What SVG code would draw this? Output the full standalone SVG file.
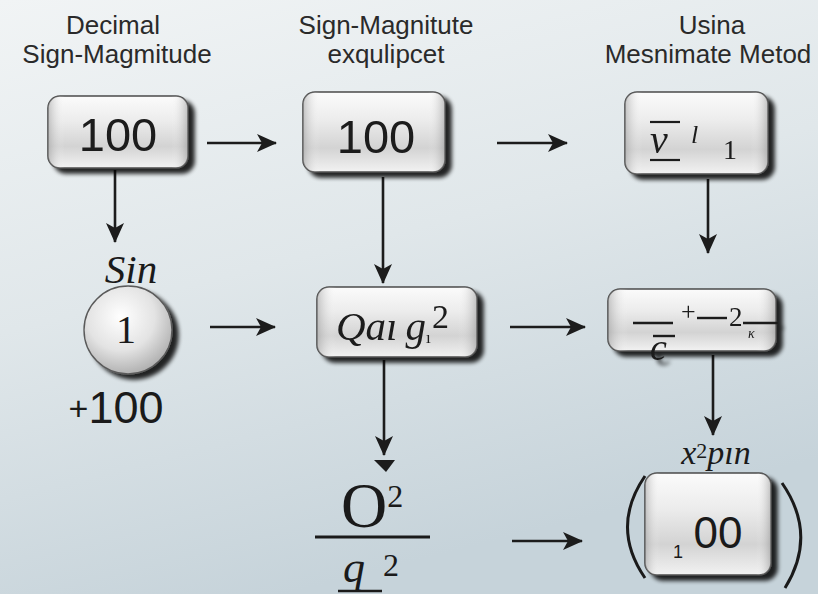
<svg xmlns="http://www.w3.org/2000/svg" width="818" height="594" viewBox="0 0 818 594">
  <defs>
    <linearGradient id="bg" x1="0" y1="0" x2="0.35" y2="1">
      <stop offset="0" stop-color="#f1f4f5"/>
      <stop offset="0.5" stop-color="#e0e7ea"/>
      <stop offset="1" stop-color="#c6d3da"/>
    </linearGradient>
    <linearGradient id="key" x1="0" y1="0" x2="0" y2="1">
      <stop offset="0" stop-color="#fbfbfb"/>
      <stop offset="0.35" stop-color="#ececec"/>
      <stop offset="0.7" stop-color="#d3d3d3"/>
      <stop offset="1" stop-color="#f2f2f2"/>
    </linearGradient>
    <linearGradient id="keySide" x1="0" y1="0" x2="1" y2="0">
      <stop offset="0" stop-color="#9a9a9a" stop-opacity="0.55"/>
      <stop offset="0.12" stop-color="#ffffff" stop-opacity="0"/>
      <stop offset="0.88" stop-color="#ffffff" stop-opacity="0"/>
      <stop offset="1" stop-color="#8a8a8a" stop-opacity="0.5"/>
    </linearGradient>
    <radialGradient id="ball" cx="0.42" cy="0.35" r="0.7">
      <stop offset="0" stop-color="#ffffff"/>
      <stop offset="0.55" stop-color="#e3e3e3"/>
      <stop offset="1" stop-color="#a9a9a9"/>
    </radialGradient>
    <filter id="drop" x="-20%" y="-20%" width="150%" height="160%">
      <feGaussianBlur in="SourceAlpha" stdDeviation="2.2"/>
      <feOffset dx="6" dy="5" result="b"/>
      <feComponentTransfer><feFuncA type="linear" slope="0.85"/></feComponentTransfer>
      <feMerge><feMergeNode/><feMergeNode in="SourceGraphic"/></feMerge>
    </filter>
    <marker id="head" viewBox="0 0 20 18" refX="19" refY="9" markerWidth="20" markerHeight="18" markerUnits="userSpaceOnUse" orient="auto">
      <path d="M0,0 L20,9 L0,18 L5,9 Z" fill="#1c1c1c"/>
    </marker>
    <style>
      .hdr{font-family:"Liberation Sans","DejaVu Sans",sans-serif;font-size:26px;fill:#2a2a2a;text-anchor:middle}
      .num{font-family:"Liberation Sans","DejaVu Sans",sans-serif;fill:#1a1a1a;text-anchor:middle}
      .ser{font-family:"Liberation Serif","DejaVu Serif",serif;fill:#1a1a1a}
      .it{font-style:italic}
      .key{fill:url(#key);stroke:#4b4b4b;stroke-width:1.6}
      .side{fill:url(#keySide)}
      .conn line{stroke:#1c1c1c;stroke-width:2.6;marker-end:url(#head)}
      .ink{stroke:#1a1a1a;fill:none}
    </style>
  </defs>

  <rect width="818" height="594" fill="url(#bg)"/>

  <!-- column headings -->
  <g id="headings">
    <text class="hdr" x="113" y="34">Decimal</text>
    <text class="hdr" x="117" y="63">Sign-Magmitude</text>
    <text class="hdr" x="386" y="34">Sign-Magnitute</text>
    <text class="hdr" x="386" y="63">exqulipcet</text>
    <text class="hdr" x="712" y="34">Usina</text>
    <text class="hdr" x="708" y="63">Mesnimate Metod</text>
  </g>

  <!-- connectors -->
  <g id="connectors" class="conn">
    <line x1="207" y1="143" x2="276" y2="143"/>
    <line x1="497" y1="143" x2="567" y2="143"/>
    <line x1="115" y1="170" x2="115" y2="242"/>
    <line x1="383" y1="177" x2="383" y2="283"/>
    <line x1="708" y1="179" x2="708" y2="253"/>
    <line x1="210" y1="327" x2="275" y2="327"/>
    <line x1="510" y1="327" x2="585" y2="327"/>
    <line x1="384" y1="360" x2="384" y2="455"/>
    <line x1="713" y1="355" x2="713" y2="435"/>
    <line x1="512" y1="541" x2="582" y2="541"/>
    <path d="M374,460 L395,460 L386,472 Z" fill="#1c1c1c"/>
  </g>

  <!-- row 1 -->
  <g id="n-decimal" filter="url(#drop)">
    <rect class="key" x="48" y="96" width="140" height="72" rx="12"/>
    <rect class="side" x="48" y="96" width="140" height="72" rx="12"/>
    <text class="num" x="118" y="151" font-size="47">100</text>
  </g>
  <g id="n-signmag" filter="url(#drop)">
    <rect class="key" x="303" y="92" width="142" height="80" rx="12"/>
    <rect class="side" x="303" y="92" width="142" height="80" rx="12"/>
    <text class="num" x="376" y="153" font-size="47">100</text>
  </g>
  <g id="n-method" filter="url(#drop)">
    <rect class="key" x="625" y="92" width="143" height="82" rx="12"/>
    <rect class="side" x="625" y="92" width="143" height="82" rx="12"/>
    <text class="ser it" x="650" y="153" font-size="40">v</text>
    <line class="ink" x1="650" y1="122" x2="680" y2="122" stroke-width="2.2"/>
    <line class="ink" x1="650" y1="160" x2="680" y2="160" stroke-width="2.2"/>
    <text class="ser it" x="691" y="143" font-size="26">l</text>
    <text class="ser" x="723" y="159" font-size="28">1</text>
  </g>

  <!-- row 2 -->
  <g id="n-sign">
    <text class="ser it" x="131" y="283" font-size="41" text-anchor="middle">Sin</text>
    <g filter="url(#drop)">
      <circle cx="128" cy="330" r="44" fill="url(#ball)" stroke="#5a5a5a" stroke-width="1.4"/>
    </g>
    <text class="ser" x="126" y="343" font-size="40" text-anchor="middle">1</text>
    <text class="num" x="116" y="423" font-size="45"><tspan font-size="34" dy="-3">+</tspan><tspan dy="3">100</tspan></text>
  </g>
  <g id="n-qa" filter="url(#drop)">
    <rect class="key" x="317" y="287" width="160" height="70" rx="12"/>
    <rect class="side" x="317" y="287" width="160" height="70" rx="12"/>
    <text class="ser it" x="336" y="340" font-size="41">Qaı<tspan dx="8">g</tspan><tspan font-size="17" font-style="normal" dy="3">ı</tspan></text>
    <text class="ser" x="432" y="328" font-size="34">2</text>
  </g>
  <g id="n-frac" filter="url(#drop)">
    <rect class="key" x="608" y="289" width="168" height="62" rx="12"/>
    <rect class="side" x="608" y="289" width="168" height="62" rx="12"/>
    <line class="ink" x1="633" y1="323" x2="673" y2="323" stroke-width="2.4"/>
    <text class="ser" x="681" y="320" font-size="26">+</text>
    <line class="ink" x1="697" y1="318" x2="727" y2="318" stroke-width="2.4"/>
    <text class="ser" x="729" y="326" font-size="27">2</text>
    <text class="ser it" x="748" y="338" font-size="14">κ</text>
    <line class="ink" x1="743" y1="323" x2="778" y2="323" stroke-width="2.4"/>
    <text class="ser it" x="650" y="360" font-size="38">c</text>
    <line class="ink" x1="653" y1="336" x2="675" y2="336" stroke-width="2.4"/>
  </g>

  <!-- row 3 -->
  <g id="n-ratio">
    <text class="ser" x="341" y="527" font-size="64">O<tspan font-size="32" dy="-20">2</tspan></text>
    <line class="ink" x1="315" y1="537" x2="430" y2="537" stroke-width="3"/>
    <text class="ser it" x="343" y="582" font-size="44">q</text>
    <text class="ser" x="383" y="576" font-size="32">2</text>
    <line class="ink" x1="338" y1="591" x2="382" y2="591" stroke-width="2.6"/>
  </g>
  <g id="n-result">
    <text class="ser it" x="716" y="464" font-size="34" text-anchor="middle">x<tspan font-style="normal" font-size="22" dy="-6">2</tspan><tspan dy="6">pın</tspan></text>
    <g filter="url(#drop)">
      <rect class="key" x="645" y="473" width="126" height="102" rx="12"/>
      <rect class="side" x="645" y="473" width="126" height="102" rx="12"/>
    </g>
    <text class="num" x="678" y="558" font-size="18">1</text>
    <text class="num" x="718" y="548" font-size="44">00</text>
    <path class="ink" d="M645,476 Q610,527 645,578" stroke-width="3"/>
    <path class="ink" d="M782,483 Q818,535 785,588" stroke-width="3"/>
  </g>
</svg>
